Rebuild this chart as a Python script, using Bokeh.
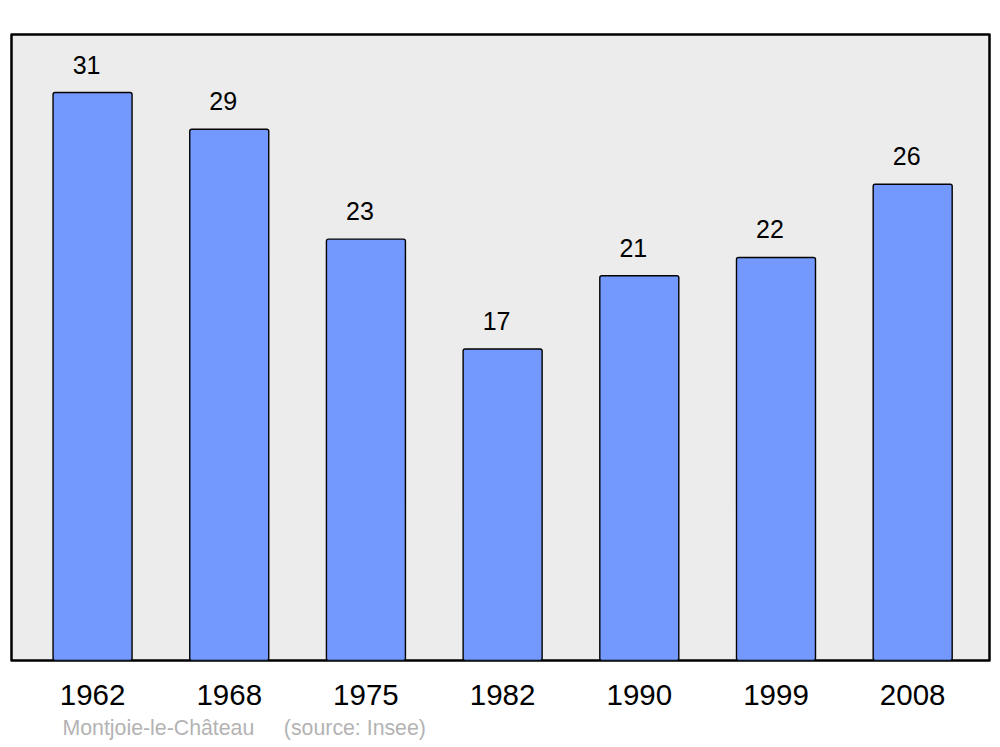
from bokeh.plotting import figure
from bokeh.models import Range1d, FixedTicker, Title
from bokeh.core.properties import value
from bokeh.embed import file_html
from bokeh.resources import INLINE

years = ["1962", "1968", "1975", "1982", "1990", "1999", "2008"]
population = [31, 29, 23, 17, 21, 22, 26]
idx = list(range(len(years)))

p = figure(width=1000, height=747, output_backend="svg", toolbar_location=None,
           x_range=Range1d(-0.593, 6.562), y_range=Range1d(0, 34.17),
           min_border_left=11, min_border_right=11, min_border_top=34, min_border_bottom=87)
p.background_fill_color = "#ececec"
p.border_fill_color = "white"
p.outline_line_color = "black"
p.outline_line_width = 2.5
p.outline_line_join = "round"
p.grid.visible = False
p.yaxis.visible = False

p.xaxis.ticker = FixedTicker(ticks=idx)
p.xaxis.major_label_overrides = {i: y for i, y in zip(idx, years)}
p.xaxis.axis_line_color = None
p.xaxis.major_tick_line_color = None
p.xaxis.minor_tick_line_color = None
p.xaxis.major_tick_out = 0
p.xaxis.major_label_standoff = 24
p.xaxis.major_label_text_font = "Liberation Sans"
p.xaxis.major_label_text_font_size = "29.5px"
p.xaxis.major_label_text_color = "black"

p.vbar(x=idx, top=population, width=0.578, bottom=0, fill_color="#7399ff",
       line_color="black", line_width=1.4, border_radius=2)

p.text(x=idx, y=population, text=[str(v) for v in population], x_offset=-6, y_offset=-28,
       text_align="center", text_baseline="middle", text_font=value("Liberation Sans"),
       text_font_size="25px", text_color="black")

src = Title(text="Montjoie-le-Château\u00a0\u00a0\u00a0\u00a0\u00a0(source: Insee)", align="left", offset=51,
            text_font="Liberation Sans", text_font_size="21.3px", text_font_style="normal",
            text_color="#b3b3b3", standoff=13)
p.add_layout(src, "below")

open("out.html", "w").write(file_html(p, INLINE))
